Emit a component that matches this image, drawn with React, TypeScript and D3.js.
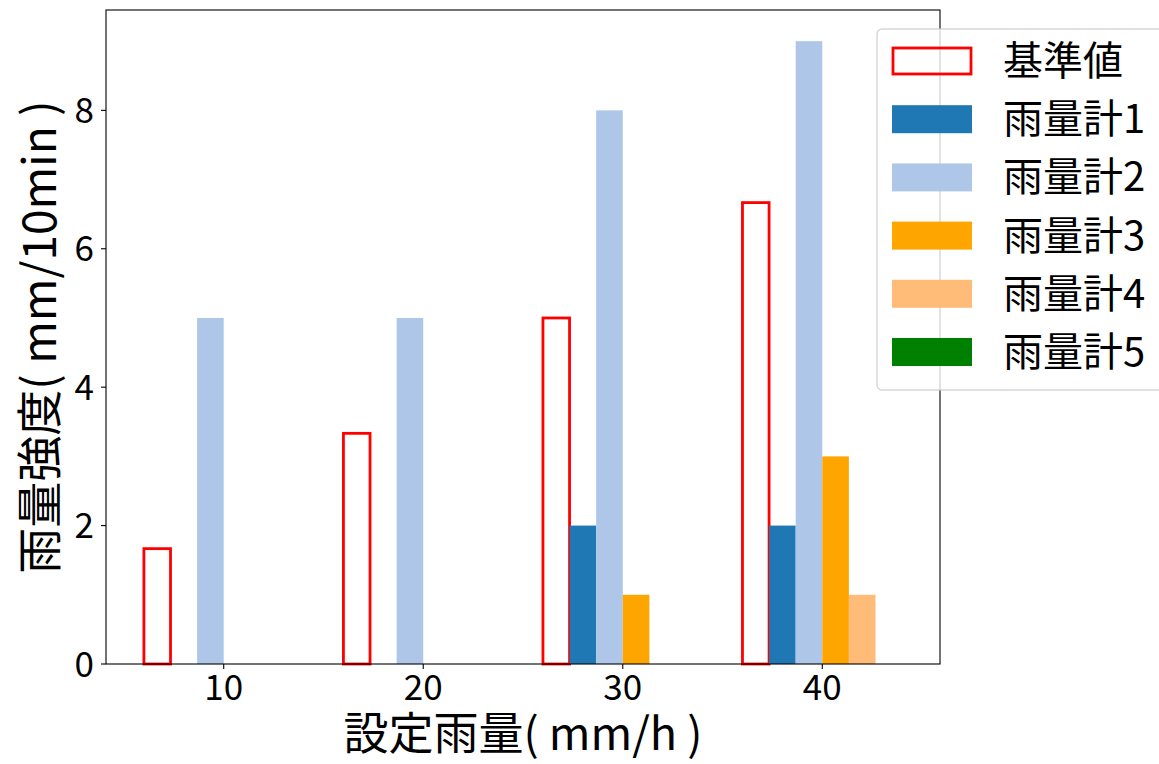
import React from "react";
import * as d3 from "d3";

const categories = [10, 20, 30, 40];
const seriesNames = ["基準値", "雨量計1", "雨量計2", "雨量計3", "雨量計4", "雨量計5"];
const baseValues = [1.667, 3.333, 5, 6.667];
const gauge1 = [0, 0, 2, 2];
const gauge2 = [5, 5, 8, 9];
const gauge3 = [0, 0, 1, 3];
const gauge4 = [0, 0, 0, 1];
const gauge5 = [0, 0, 0, 0];
const yTicks = [0, 2, 4, 6, 8];
const colors = ["none", "#1f77b4", "#aec7e8", "#ffa500", "#ffbb78", "#008000"];

const W = 1159;
const H = 764;
const M = { left: 106, right: 940, top: 10, bottom: 664 };
const FONT = "'Noto Sans CJK JP', 'Noto Sans', sans-serif";

export default function App() {
  const series = [baseValues, gauge1, gauge2, gauge3, gauge4, gauge5];
  const bw = (10 * 0.8) / 6;
  const x = d3.scaleLinear().domain([4.1, 45.9]).range([M.left, M.right]);
  const y = d3.scaleLinear().domain([0, 9.45]).range([M.bottom, M.top]);

  const bars: JSX.Element[] = [];
  series.forEach((vals, si) => {
    vals.forEach((v, ci) => {
      const c = categories[ci];
      const x0 = x(c + (si - 3) * bw);
      const x1 = x(c + (si - 2) * bw);
      if (v <= 0) return;
      if (si === 0) {
        bars.push(
          <rect key={`b${si}-${ci}`} x={x0} y={y(v)} width={x1 - x0} height={y(0) - y(v)}
            fill="none" stroke="#ff0000" strokeWidth={2.8} />
        );
      } else {
        bars.push(
          <rect key={`b${si}-${ci}`} x={x0} y={y(v)} width={x1 - x0} height={y(0) - y(v)}
            fill={colors[si]} />
        );
      }
    });
  });

  const legX = 877, legY = 29, legW = 290, legH = 361;
  const rowStep = 58.2;
  const row0 = 61;

  return (
    <div style={{ position: "absolute", left: 0, top: 0 }}>
      <svg width={W} height={H} style={{ display: "block", background: "#fff" }}>
        {bars}
        {/* spines */}
        <rect x={M.left} y={M.top} width={M.right - M.left} height={M.bottom - M.top}
          fill="none" stroke="#000" strokeWidth={1.1} />
        {/* x ticks */}
        {categories.map((c) => (
          <g key={`xt${c}`}>
            <line x1={x(c)} x2={x(c)} y1={M.bottom} y2={M.bottom + 5} stroke="#000" strokeWidth={1.1} />
            <text x={x(c)} y={700} textAnchor="middle" fontFamily={FONT} fontSize={35} fill="#000">{c}</text>
          </g>
        ))}
        {/* y ticks */}
        {yTicks.map((t) => (
          <g key={`yt${t}`}>
            <line x1={M.left - 5} x2={M.left} y1={y(t)} y2={y(t)} stroke="#000" strokeWidth={1.1} />
            <text x={94} y={y(t) + 12.5} textAnchor="end" fontFamily={FONT} fontSize={35} fill="#000">{t}</text>
          </g>
        ))}
        {/* axis labels */}
        <text x={(M.left + M.right) / 2} y={750} textAnchor="middle" fontFamily={FONT} fontSize={45} fill="#000">設定雨量( mm/h )</text>
        <text transform={`translate(56, ${(M.top + M.bottom) / 2}) rotate(-90)`} textAnchor="middle"
          fontFamily={FONT} fontSize={46} fill="#000">雨量強度( mm/10min )</text>
        {/* legend */}
        <rect x={legX} y={legY} width={legW} height={legH} rx={5} ry={5}
          fill="#fff" fillOpacity={0.8} stroke="#cccccc" strokeOpacity={0.8} strokeWidth={1.4} />
        {seriesNames.map((name, i) => {
          const cy = row0 + i * rowStep;
          return (
            <g key={`lg${i}`}>
              {i === 0 ? (
                <rect x={893} y={cy - 13} width={78} height={26} fill="none" stroke="#ff0000" strokeWidth={2.8} />
              ) : (
                <rect x={892} y={cy - 14} width={80} height={28} fill={colors[i]} />
              )}
              <text x={1003} y={cy + 14} fontFamily={FONT} fontSize={40} fill="#000">{name}</text>
            </g>
          );
        })}
      </svg>
    </div>
  );
}
